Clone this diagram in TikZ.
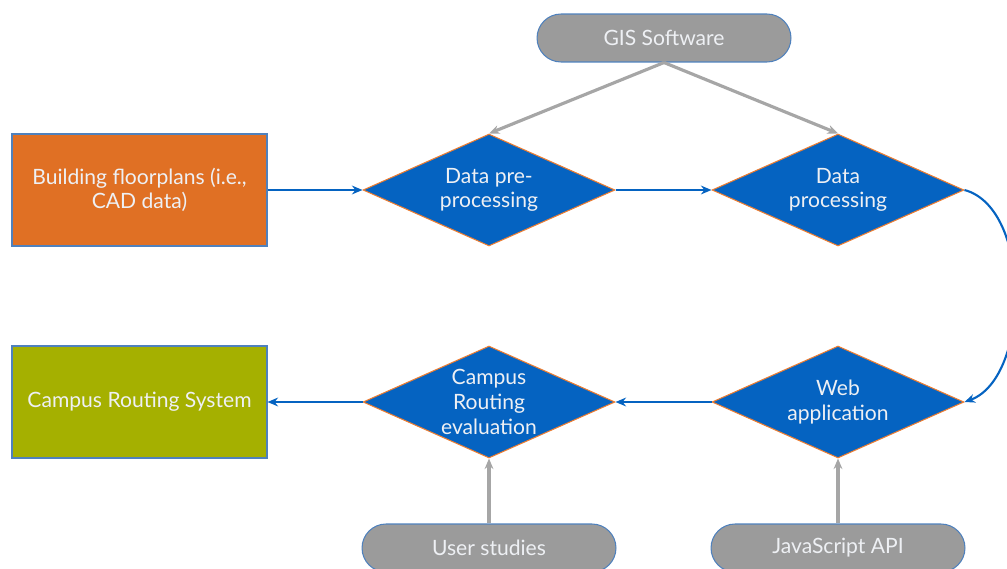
\documentclass[tikz,border=0pt]{standalone}
\usepackage{fontspec}
\setmainfont{Lato}
\usetikzlibrary{arrows.meta,shapes.geometric}
\definecolor{stepblue}{RGB}{5,99,193}
\definecolor{stepedge}{RGB}{237,125,49}
\definecolor{srcorange}{RGB}{224,112,36}
\definecolor{sysolive}{RGB}{165,176,0}
\definecolor{toolgray}{RGB}{155,155,155}
\definecolor{tooledge}{RGB}{79,129,189}
\definecolor{arrowgray}{RGB}{166,166,166}
\definecolor{lighttext}{RGB}{238,240,244}

\tikzset{
  stepbox/.style={diamond,aspect=2.25,fill=stepblue,draw=stepedge,line width=0.6pt,
    inner sep=0pt,minimum width=5.04cm,minimum height=2.24cm,align=center,
    text=lighttext,font=\fontsize{12}{14}\selectfont},
  databox/.style={rectangle,draw=tooledge,line width=0.6pt,minimum width=5.1cm,
    minimum height=2.24cm,align=center,text=lighttext,font=\fontsize{12}{14}\selectfont},
  toolbox/.style={rectangle,rounded corners=0.48cm,fill=toolgray,draw=tooledge,
    line width=0.6pt,minimum width=5.08cm,minimum height=0.96cm,
    text=lighttext,font=\fontsize{12}{14}\selectfont},
  flow/.style={->,draw=stepblue,line width=1.2pt},
  feed/.style={->,draw=arrowgray,line width=1.8pt}
}

\begin{document}
\begin{tikzpicture}[x=0.02cm,y=-0.02cm,>={Stealth[length=6pt,width=5pt]}]
  % page = 1007 x 568 px
  \useasboundingbox (0,0) rectangle (1007,568);
  \clip (0,0) rectangle (1007,568);

  % --- Tools ---
  \node[toolbox] (gis) at (664,38) {GIS Software};
  \node[toolbox] (users) at (489,548) {User studies};
  \node[toolbox] (jsapi) at (838,548) {JavaScript API};

  % --- Input and output ---
  \node[databox,fill=srcorange] (floorplans) at (139.5,190) {Building floorplans (i.e.,\\CAD data)};
  \node[databox,fill=sysolive] (routing) at (139.5,402) {Campus Routing System};

  % --- Processing steps ---
  \node[stepbox] (preproc) at (489,190) {Data pre-\\processing};
  \node[stepbox] (proc) at (838,190) {Data\\processing};
  \node[stepbox] (webapp) at (838,402) {Web\\application};
  \node[stepbox] (evaluation) at (489,402) {Campus\\Routing\\evaluation};

  % --- Main flow ---
  \draw[flow] (floorplans.east) -- (preproc.west);
  \draw[flow] (preproc.east) -- (proc.west);
  \draw[flow] (proc.east) to[out=-15,in=20,looseness=0.85] (webapp.east);
  \draw[flow] (webapp.west) -- (evaluation.east);
  \draw[flow] (evaluation.west) -- (routing.east);

  % --- Tool inputs ---
  \draw[feed] (gis.south) -- (preproc.north);
  \draw[feed] (gis.south) -- (proc.north);
  \draw[feed] (users.north) -- (evaluation.south);
  \draw[feed] (jsapi.north) -- (webapp.south);
\end{tikzpicture}
\end{document}
